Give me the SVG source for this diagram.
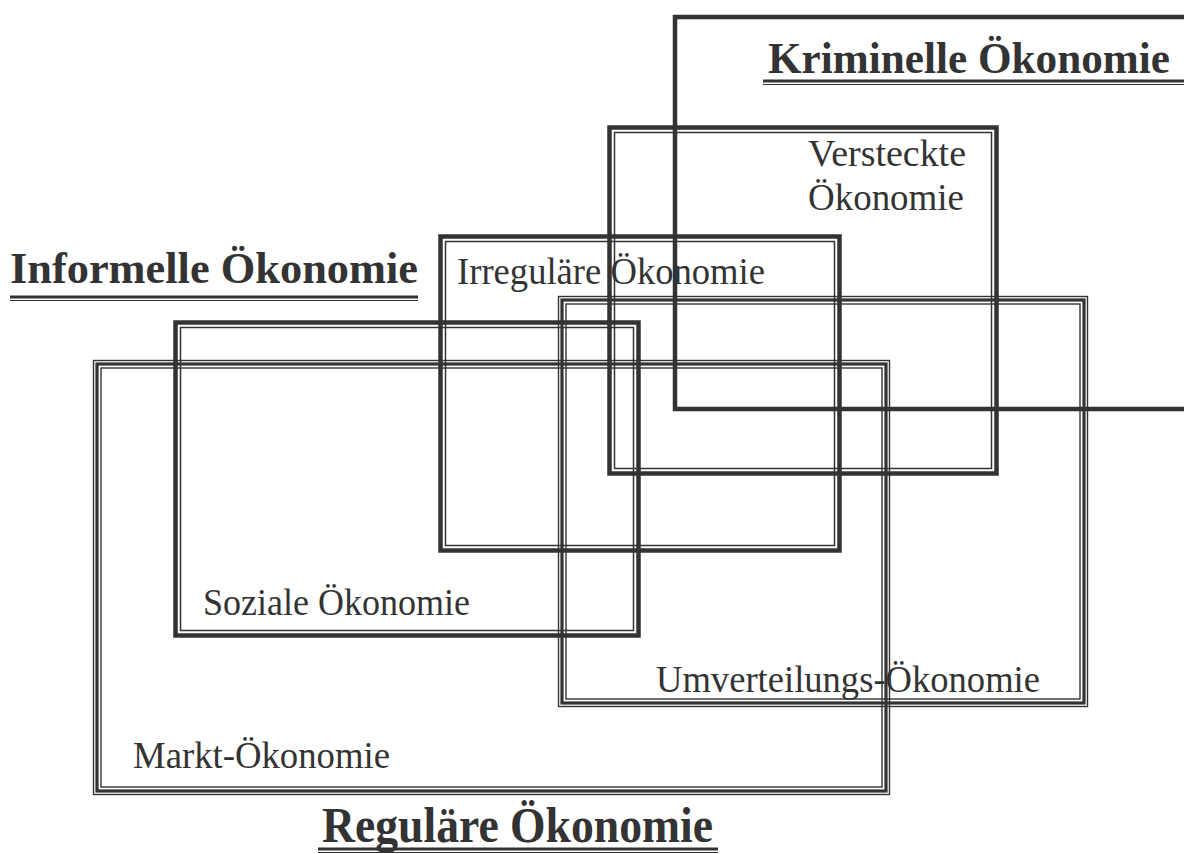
<svg xmlns="http://www.w3.org/2000/svg" width="1184" height="854" viewBox="0 0 1184 854">
<style>
rect,path{fill:none;stroke:#333}
.k{stroke-width:4.5}
.t5{stroke-width:4.5}
.t1{stroke-width:1.5}
.o1{stroke-width:1.4}
.o3{stroke-width:3.2}
.big{font-family:"Liberation Serif",serif;font-weight:bold;font-size:45px;fill:#333}
.lbl{font-family:"Liberation Serif",serif;font-size:38px;fill:#333}
line{stroke:#333}
</style>
<rect width="1184" height="854" style="fill:#fff;stroke:none"/>
<g id="kriminelle">
<path class="k" d="M1184,17 H675 V409 H1184"/>
<text class="big" x="768" y="73" textLength="402" lengthAdjust="spacingAndGlyphs" style="font-size:44px">Kriminelle Ökonomie</text>
<line x1="763" y1="81" x2="1184" y2="81" stroke-width="3"/>
<line x1="763" y1="84.5" x2="1184" y2="84.5" stroke-width="1"/>
</g>
<g id="versteckte">
<rect class="t5" x="609.5" y="127.5" width="387" height="346"/>
<rect class="t1" x="614.5" y="132.5" width="377" height="336"/>
<text class="lbl" x="808" y="166" textLength="158" lengthAdjust="spacingAndGlyphs">Versteckte</text>
<text class="lbl" x="808" y="210" textLength="156" lengthAdjust="spacingAndGlyphs">Ökonomie</text>
</g>
<g id="irregulaere">
<rect class="t5" x="440.5" y="236.5" width="399" height="314"/>
<rect class="t1" x="445.5" y="241.5" width="389" height="304"/>
<text class="lbl" x="457" y="284" textLength="308" lengthAdjust="spacingAndGlyphs">Irreguläre Ökonomie</text>
</g>
<g id="informelle">
<text class="big" x="10" y="283" textLength="408" lengthAdjust="spacingAndGlyphs">Informelle Ökonomie</text>
<line x1="10" y1="297" x2="418" y2="297" stroke-width="3"/>
<line x1="10" y1="300.5" x2="418" y2="300.5" stroke-width="1"/>
</g>
<g id="soziale">
<rect class="t5" x="175.5" y="322.5" width="463" height="313"/>
<rect class="t1" x="180.5" y="327.5" width="453" height="303"/>
<text class="lbl" x="203" y="615" textLength="267" lengthAdjust="spacingAndGlyphs">Soziale Ökonomie</text>
</g>
<g id="umverteilungs">
<rect class="o1" x="558.5" y="296.5" width="529" height="410"/>
<rect class="o3" x="562" y="300" width="522" height="403"/>
<rect class="o1" x="566" y="304" width="514" height="395"/>
<text class="lbl" x="656" y="692" textLength="384" lengthAdjust="spacingAndGlyphs">Umverteilungs-Ökonomie</text>
</g>
<g id="markt">
<rect class="o1" x="93.5" y="360.5" width="796" height="434"/>
<rect class="o3" x="97" y="364" width="789" height="427"/>
<rect class="o1" x="101" y="368" width="781" height="419"/>
<text class="lbl" x="133" y="768" textLength="257" lengthAdjust="spacingAndGlyphs">Markt-Ökonomie</text>
</g>
<g id="regulaere">
<text class="big" x="322" y="842" textLength="391" lengthAdjust="spacingAndGlyphs" style="font-size:50px">Reguläre Ökonomie</text>
<line x1="318" y1="849" x2="718" y2="849" stroke-width="3"/>
<line x1="318" y1="852.5" x2="718" y2="852.5" stroke-width="1"/>
</g>
<g id="connectors"></g>
</svg>
